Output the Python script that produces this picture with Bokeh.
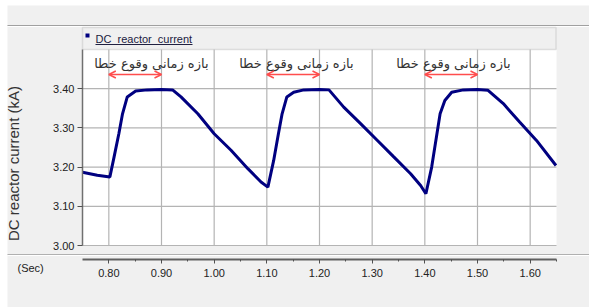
import math
from bokeh.plotting import figure
from bokeh.models import (Range1d, FixedTicker, BoxAnnotation, Label, Arrow,
                          OpenHead, NumeralTickFormatter)
from bokeh.core.properties import value
from bokeh.embed import file_html
from bokeh.resources import INLINE

# ---- data ----
time_s = [0.750, 0.778, 0.802, 0.810, 0.819, 0.826, 0.835, 0.851, 0.873, 0.900,
          0.921, 0.937, 0.969, 1.000, 1.032, 1.064, 1.089, 1.102, 1.113, 1.122,
          1.129, 1.138, 1.151, 1.170, 1.200, 1.218, 1.246, 1.278, 1.310, 1.341,
          1.373, 1.392, 1.402, 1.413, 1.422, 1.429, 1.438, 1.451, 1.473, 1.500,
          1.520, 1.549, 1.580, 1.612, 1.649]
current_ka = [3.187, 3.179, 3.175, 3.226, 3.285, 3.336, 3.379, 3.394, 3.397, 3.398,
              3.397, 3.379, 3.336, 3.285, 3.243, 3.196, 3.162, 3.149, 3.217, 3.285,
              3.336, 3.379, 3.391, 3.397, 3.398, 3.397, 3.353, 3.311, 3.268, 3.226,
              3.183, 3.153, 3.132, 3.200, 3.277, 3.336, 3.370, 3.391, 3.397, 3.398,
              3.396, 3.362, 3.315, 3.268, 3.204]
fault_start = [0.80, 1.10, 1.40]
fault_end = [0.90, 1.20, 1.50]
fault_label = "بازه زمانی وقوع خطا"
x_ticks = [0.80, 0.90, 1.00, 1.10, 1.20, 1.30, 1.40, 1.50, 1.60]
x_minor = [0.85, 0.95, 1.05, 1.15, 1.25, 1.35, 1.45, 1.55, 1.65]
y_ticks = [3.00, 3.10, 3.20, 3.30, 3.40]
series_name = "DC_reactor_current"
y_title = "DC reactor current (kA)"
x_title = "(Sec)"

# ---- layout (frame covers the whole canvas; axes sit at fixed locations) ----
W, H = 589, 307
X0, X1 = 0.75, 1.65          # visible time window of the plot area
Y0, Y1 = 3.00, 3.50          # visible current window of the plot area
PX_L, PX_R = 82, 556         # plot area edges on the canvas (px)
PY_T, PY_B = 49, 245
sx = (PX_R - PX_L) / (X1 - X0)
sy = (PY_B - PY_T) / (Y1 - Y0)
x_lo = X0 - PX_L / sx
x_hi = X0 + (W - PX_L) / sx
y_lo = Y0 - (H - PY_B) / sy
y_hi = Y1 + PY_T / sy
def ydata(py):
    return Y0 + (PY_B - py) / sy

BG = "#f0f0f0"
GRID = "#b4b4b4"
FONT = "Liberation Sans"

p = figure(width=W, height=H, x_range=Range1d(x_lo, x_hi), y_range=Range1d(y_lo, y_hi),
           output_backend="svg", toolbar_location=None,
           min_border_left=0, min_border_right=0, min_border_top=0, min_border_bottom=0)
p.background_fill_color = "white"
p.border_fill_color = "white"
p.outline_line_color = None
p.xgrid.visible = False
p.ygrid.visible = False

def cbox(l, r, t, b, **kw):
    p.add_layout(BoxAnnotation(left=l, right=r, top=t, bottom=b,
                               left_units="canvas", right_units="canvas",
                               top_units="canvas", bottom_units="canvas",
                               level="underlay", **kw))

# gray panel background
cbox(7, W, 5, H, fill_color=BG, fill_alpha=1, line_color=None)
# white plotting area
p.add_layout(BoxAnnotation(left=X0, right=X1, bottom=Y0, top=Y1,
                           fill_color="white", fill_alpha=1.0,
                           line_color=None, level="underlay"))
# header separator, legend bar, lower separator
cbox(7, W, 24.5, 25.5, fill_color="#a0a0a0", fill_alpha=1, line_color=None)
cbox(7, W, 25.5, 26.5, fill_color="white", fill_alpha=1, line_color=None)
cbox(PX_L, PX_R - 0.5, 27, PY_T, fill_color=BG, fill_alpha=1,
     line_color="#a8a8a8", line_width=1.5)
cbox(7, W, 253.5, 254.5, fill_color="#b0b0b0", fill_alpha=1, line_color=None)
cbox(7, W, 254.5, 255.5, fill_color="white", fill_alpha=1, line_color=None)

# grid lines
p.segment(x0=[X0] * len(y_ticks), x1=[X1] * len(y_ticks), y0=y_ticks, y1=y_ticks,
          line_color=GRID, line_width=1.2)
p.segment(x0=x_ticks, x1=x_ticks, y0=[Y0] * len(x_ticks), y1=[Y1] * len(x_ticks),
          line_color=GRID, line_width=1.2)

# curve
p.line(time_s, current_ka, line_color="#000080", line_width=3)

# fault-interval arrows and labels
arrow_y = ydata(74)
label_y = ydata(63)
label_right = [X0 + (208 - PX_L) / sx, X0 + (353 - PX_L) / sx, X0 + (510 - PX_L) / sx]
for xs, xe in zip(fault_start, fault_end):
    p.add_layout(Arrow(x_start=xs, x_end=xe, y_start=arrow_y, y_end=arrow_y,
                       line_color="#ff4d4d", line_width=1.5,
                       start=OpenHead(size=7, line_color="#ff4d4d", line_width=1.5),
                       end=OpenHead(size=7, line_color="#ff4d4d", line_width=1.5)))
p.text(x=label_right, y=[label_y] * 3, text=[fault_label] * 3,
       text_align="right", text_baseline="middle", text_color="#333333",
       text_font=value("DejaVu Sans"), text_font_size="13px")

# axes at fixed locations
yax = p.yaxis[0]
yax.fixed_location = X0
yax.ticker = FixedTicker(ticks=y_ticks)
yax.formatter = NumeralTickFormatter(format="0.00")
yax.bounds = (Y0, Y1)
yax.axis_line_color = "#707070"
yax.axis_line_width = 1.5
yax.major_tick_in = 0
yax.major_tick_out = 5
yax.major_tick_line_color = "#505050"
yax.minor_tick_line_color = None
yax.major_label_text_font = FONT
yax.major_label_text_font_size = "11px"
yax.major_label_text_color = "#222222"
yax.major_label_standoff = 3

xax = p.xaxis[0]
xax.fixed_location = ydata(259)
xax.ticker = FixedTicker(ticks=x_ticks, minor_ticks=x_minor)
xax.formatter = NumeralTickFormatter(format="0.00")
xax.bounds = (X0, X1)
xax.axis_line_color = "#606060"
xax.axis_line_width = 2
xax.major_tick_in = 0
xax.major_tick_out = 4
xax.minor_tick_in = 0
xax.minor_tick_out = 2
xax.major_tick_line_color = "#505050"
xax.minor_tick_line_color = "#505050"
xax.major_label_text_font = FONT
xax.major_label_text_font_size = "11px"
xax.major_label_text_color = "#222222"
xax.major_label_standoff = 5

# legend entry
cbox(85, 89, 33, 37, fill_color="#000080", fill_alpha=1, line_color=None)
cbox(95, 192, 43.5, 44.5, fill_color="#202040", fill_alpha=1, line_color=None)
p.add_layout(Label(x=95, y=38, x_units="canvas", y_units="canvas", text=series_name,
                   text_font=FONT, text_font_size="11px", text_color="#202040",
                   text_baseline="middle", text_align="left"))
# axis titles
p.add_layout(Label(x=13, y=163, x_units="canvas", y_units="canvas", text=y_title,
                   angle=math.pi / 2, text_font=FONT, text_font_size="15px",
                   text_color="#333333", text_baseline="middle", text_align="center"))
p.add_layout(Label(x=17, y=267, x_units="canvas", y_units="canvas", text=x_title,
                   text_font=FONT, text_font_size="11px", text_color="#222222",
                   text_baseline="middle", text_align="left"))

open("out.html", "w").write(file_html(p, INLINE))
